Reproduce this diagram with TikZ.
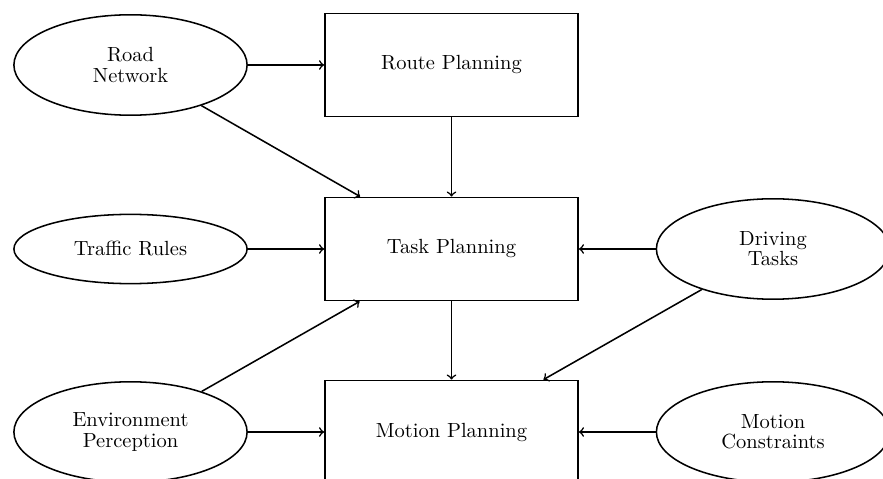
\documentclass[tikz,border=0pt]{standalone}
\usetikzlibrary{shapes.geometric}
\begin{document}
\begin{tikzpicture}[x=0.488pt, y=-0.488pt, line width=0.75pt,
  every node/.style={font=\fontsize{10pt}{9.8pt}\selectfont, align=center},
  block/.style={draw, rectangle, minimum width=123.6pt, minimum height=50.4pt, inner sep=2pt},
  source/.style={draw, ellipse, minimum width=113.8pt, minimum height=49pt, inner sep=1pt},
  flat/.style={source, minimum height=33.8pt},
  link/.style={->}]
\useasboundingbox (0,0) rectangle (883,479);
\clip (0,0) rectangle (883,479);

% planning stages
\node[block] (route)  at (451.5,65)  {Route Planning};
\node[block] (task)   at (451.5,249) {Task Planning};
\node[block] (motion) at (451.5,432) {Motion Planning};

% inputs
\node[source] (road)    at (130.5,65)  {Road\\Network};
\node[flat]   (traffic) at (130.5,249) {Traffic Rules};
\node[source] (env)     at (130.5,432) {Environment\\Perception};
\node[source] (drive)   at (773,249)   {Driving\\Tasks};
\node[source] (cons)    at (773,432)   {Motion\\Constraints};

% information flow
\draw[link] (road) -- (route);
\draw[link] (road) -- (task);
\draw[link] (route) -- (task);
\draw[link] (traffic) -- (task);
\draw[link] (drive) -- (task);
\draw[link] (env) -- (task);
\draw[link] (task) -- (motion);
\draw[link] (env) -- (motion);
\draw[link] (drive) -- (motion);
\draw[link] (cons) -- (motion);
\end{tikzpicture}
\end{document}
